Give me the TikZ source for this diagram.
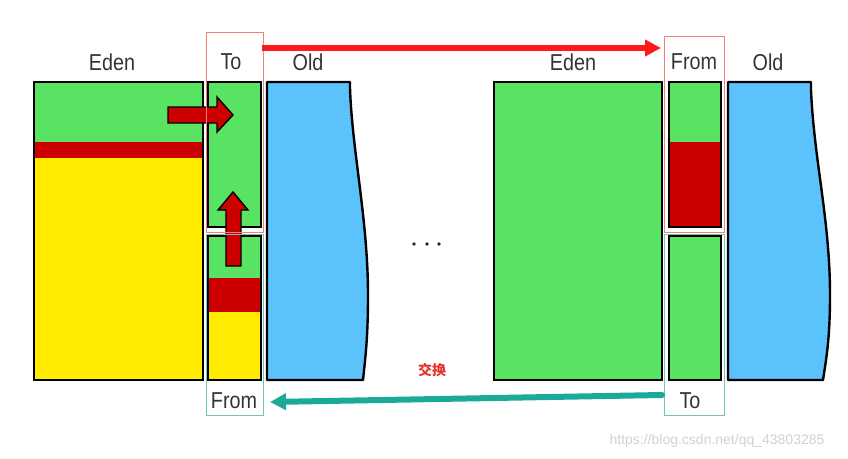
\documentclass[tikz,border=0pt]{standalone}
\usepackage{fontspec}
\setmainfont{Liberation Sans}
\newfontfamily\lbl[FakeStretch=0.86]{Liberation Sans}
\newfontfamily\cjk{Noto Sans CJK SC}
\usetikzlibrary{arrows.meta,fit}
\definecolor{gc}{HTML}{58E362}
\definecolor{yc}{HTML}{FFEC00}
\definecolor{rc}{HTML}{CC0000}
\definecolor{bc}{HTML}{5BC2FC}
\definecolor{tealc}{HTML}{1BAA98}
\definecolor{arrred}{HTML}{FF1A1A}
\definecolor{pinkf}{HTML}{F08080}
\definecolor{tealf}{HTML}{70C4BA}
\definecolor{swapc}{HTML}{E8302A}
\tikzset{
  mem/.style={draw=black, line width=2.4pt, rectangle, inner sep=0pt},
  lab/.style={font=\lbl\fontsize{23}{23}\selectfont, text=black!80, inner sep=0pt},
  pframe/.style={draw=pinkf, line width=1pt, rectangle, inner sep=0pt},
  tframe/.style={draw=tealf, line width=1pt, rectangle, inner sep=0pt},
  oldgen/.style={draw=black, line width=2.4pt, fill=bc, line join=round},
  blockarrow/.style={fill=rc, draw=black, line width=1.4pt, line join=miter},
  bigarrow/.style={line width=6pt, -{Triangle[length=16pt,width=16pt]}},
}
\begin{document}
\begin{tikzpicture}[x=1pt,y=-1pt]
\useasboundingbox (0,0) rectangle (848,458);
% ---------- left state ----------
% Eden
\fill[gc] (34,82) rectangle (203,142);
\fill[rc] (34,142) rectangle (203,158);
\fill[yc] (34,158) rectangle (203,380);
\node[mem, fit={(34,82) (203,380)}] (edenL) {};
% To (upper)
\fill[gc] (208,82) rectangle (261,227);
\node[mem, fit={(208,82) (261,227)}] (toL) {};
% From (lower)
\fill[gc] (208,236) rectangle (261,278);
\fill[rc] (208,278) rectangle (261,312);
\fill[yc] (208,312) rectangle (261,380);
\node[mem, fit={(208,236) (261,380)}] (fromL) {};
% Old
\draw[oldgen] (267,82) -- (350,82) -- (350,88) .. controls (352,150) and (368,220) .. (368,295) .. controls (368,340) and (365,360) .. (363,380) -- (267,380) -- cycle;
% block arrows
\draw[blockarrow] (168,107) -- (217,107) -- (217,97) -- (233,115) -- (217,132) -- (217,123) -- (168,123) -- cycle;
\draw[blockarrow] (226,266) -- (226,210) -- (218,210) -- (233,192) -- (248,210) -- (241,210) -- (241,266) -- cycle;
% labels
\node[lab] (edenLlab) at (112,62) {Eden};
\node[lab] (toLlab) at (231,62) {To};
\node[lab] (oldLlab) at (308,62) {Old};
\node[lab] (fromLlab) at (234,401) {From};
% frames
\node[pframe, fit={(206,32) (263,232)}] (pfL) {};
\node[tframe, fit={(206,234) (263,415)}] (tfL) {};

% ---------- right state ----------
\fill[gc] (494,82) rectangle (662,380);
\node[mem, fit={(494,82) (662,380)}] (edenR) {};
\fill[gc] (669,82) rectangle (721,142);
\fill[rc] (669,142) rectangle (721,227);
\node[mem, fit={(669,82) (721,227)}] (fromR) {};
\fill[gc] (669,236) rectangle (721,380);
\node[mem, fit={(669,236) (721,380)}] (toR) {};
\draw[oldgen] (728,82) -- (811,82) -- (811,90) .. controls (814,160) and (830,220) .. (830,295) .. controls (830,340) and (826,360) .. (823,380) -- (728,380) -- cycle;
\node[lab] (edenRlab) at (573,62) {Eden};
\node[lab] (fromRlab) at (694,62) {From};
\node[lab] (oldRlab) at (768,62) {Old};
\node[lab] (toRlab) at (690,401) {To};
\node[pframe, fit={(664,36) (724,232)}] (pfR) {};
\node[tframe, fit={(664,234) (724,415)}] (tfR) {};

% dots
\foreach \xx in {414,427,439} \fill[black!85] (\xx,244) circle (1.9pt);

% connectors
\coordinate (ra) at (262,48);
\coordinate (rb) at (661,48);
\draw[bigarrow, arrred] (ra) -- (rb);
\coordinate (ta) at (662,395);
\coordinate (tb) at (270,402);
\draw[bigarrow, tealc, line cap=round] (ta) -- (tb);

% exchange label
\node[font=\cjk\fontsize{14}{14}\selectfont\bfseries, text=swapc, inner sep=0pt] (swap) at (432,370) {交换};

% watermark
\node[font=\fontsize{14}{14}\selectfont, text=black!18, inner sep=0pt] (wm) at (717,441) {https://blog.csdn.net/qq\_43803285};
\end{tikzpicture}
\end{document}
